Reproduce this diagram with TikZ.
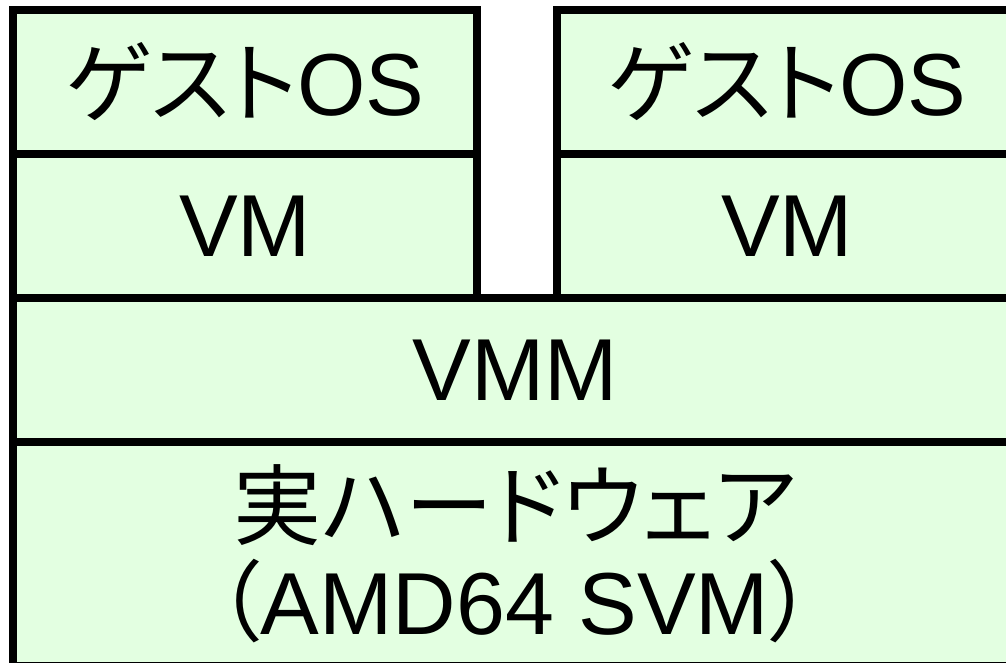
\documentclass[tikz,border=0pt]{standalone}
\usepackage{fontspec}
\setmainfont{Liberation Sans}
\newfontfamily\jp[RawFeature=+palt]{Noto Sans CJK JP}
\definecolor{boxfill}{RGB}{227,255,225}
\tikzset{
  layer/.style={draw=black, line width=8pt, fill=boxfill, rectangle, inner sep=0pt,
    font=\fontsize{88}{100}\selectfont, align=center, minimum height=144pt}
}
\begin{document}
\begin{tikzpicture}[x=1pt,y=-1pt]
\useasboundingbox (0,0) rectangle (1006,663);
\node[layer, minimum width=1004pt, minimum height=224pt] (hw) at (515,554)
  {{\jp 実ハードウェア}\\[-4pt]{\jp （}AMD64 SVM{\jp ）}};
\node[layer, minimum width=1004pt] (vmm) at (515,370) {VMM};
\node[layer, minimum width=464pt] (vm1) at (245,226) {VM};
\node[layer, minimum width=464pt] (os1) at (245,82) {{\jp ゲスト}OS};
\node[layer, minimum width=460pt] (vm2) at (787,226) {VM};
\node[layer, minimum width=460pt] (os2) at (787,82) {{\jp ゲスト}OS};
\end{tikzpicture}
\end{document}
